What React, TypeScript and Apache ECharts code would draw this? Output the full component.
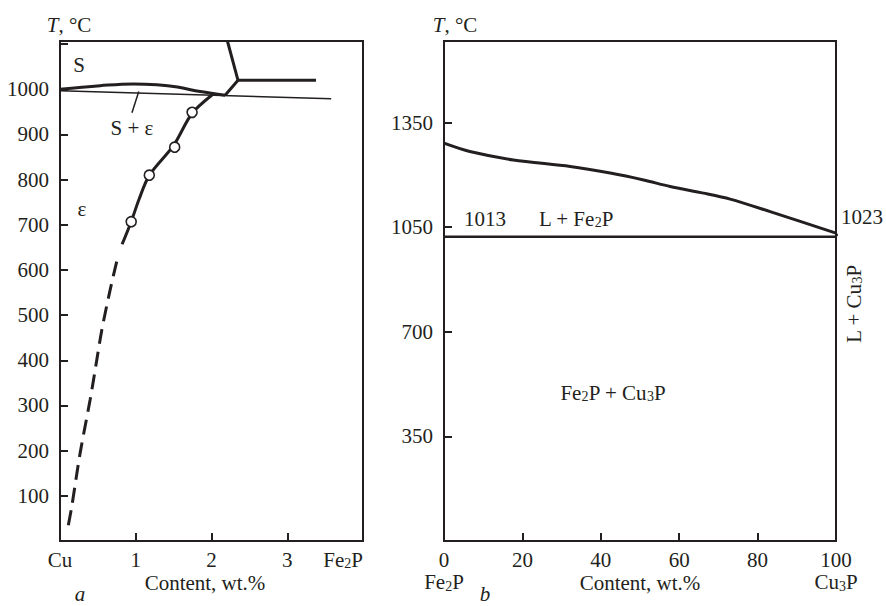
import React, { useEffect, useRef } from 'react';
import * as echarts from 'echarts';

const FONT = '"Liberation Serif", "Times New Roman", serif';
const INK = '#231f20';
const FS = 21;

// ---- Panel a: Cu – Fe2P ----
const leftXLabels = ['Cu', '1', '2', '3', 'Fe2P'];
const leftXRange = [0, 4];
const leftYRange = [0, 1107];
const leftYLabelValues = [100, 200, 300, 400, 500, 600, 700, 800, 900, 1000];
const sCurve = [[0, 1000], [0.53, 1008], [0.97, 1012], [1.28, 1010], [1.55, 1005], [1.85, 995], [2.18, 987]];
const solidusLine = [[0, 997], [3.58, 979]];
const leaderLine = [[1.04, 995], [0.95, 948]];
const epsSolid = [[0.82, 657], [0.94, 707], [1.04, 755], [1.18, 810], [1.5, 876], [1.74, 946], [2.01, 988]];
const epsDashed = [[0.11, 35], [0.155, 76], [0.265, 194], [0.397, 312], [0.45, 364], [0.552, 467], [0.662, 556], [0.759, 626]];
const epsPoints = [[0.94, 707], [1.179, 810], [1.514, 872], [1.744, 949]];
const junctionA = [[2.18, 987], [2.35, 1020], [2.21, 1107]];
const junctionB = [[2.35, 1020], [3.38, 1020]];

// ---- Panel b: Fe2P – Cu3P ----
const rightXRange = [0, 100];
const rightXTicks = [0, 20, 40, 60, 80, 100];
const rightYRange = [0, 1673];
const rightYTickLabels: Record<number, string> = { 350: '350', 700: '700', 1050: '1050', 1400: '1350' };
const liquidus = [[0, 1331], [6.6, 1303], [17.7, 1275], [32.2, 1253], [42.4, 1231], [50.9, 1208], [57.7, 1186], [66.2, 1164], [73, 1144], [83.2, 1102], [100, 1030]];
const eutectic = [[0, 1018], [100, 1018]];
const cu3pTail = [[100, 1030], [103.6, 980]];

const rich = {
  n: { fontSize: FS, fontFamily: FONT, lineHeight: 21, color: INK, fill: INK },
  s: { fontSize: 14, fontFamily: FONT, lineHeight: 10, verticalAlign: 'bottom', color: INK, fill: INK },
  i: { fontSize: FS, fontFamily: FONT, lineHeight: 21, fontStyle: 'italic', color: INK, fill: INK },
};

const chem = (s: string) =>
  s.replace(/([A-Za-z])(\d)/g, '$1}{s|$2}{n|').replace(/^/, '{n|') + '}';

const txt = (text: string, x: number, y: number, extra: any = {}) => ({
  type: 'text',
  x,
  y,
  ...extra,
  style: {
    text,
    fontSize: FS,
    fontFamily: FONT,
    fill: INK,
    align: 'center',
    verticalAlign: 'middle',
    rich,
    ...(extra.style || {}),
  },
});

const thick = { color: INK, width: 3 };
const thin = { color: INK, width: 1.5 };

export default function App() {
  const ref = useRef<HTMLDivElement>(null);
  useEffect(() => {
    if (!ref.current) return;
    const chart = echarts.init(ref.current, null, { renderer: 'svg' });
    const axisCommon = {
      axisLine: { show: true, lineStyle: { color: INK, width: 2 } },
      axisTick: { show: true, inside: true, length: 8, lineStyle: { color: INK, width: 2 } },
      splitLine: { show: false },
      nameMoveOverlap: false,
    };
    const lineSeries = (data: number[][], style: any, idx: number, extra: any = {}) => ({
      type: 'line',
      data,
      xAxisIndex: idx,
      yAxisIndex: idx,
      showSymbol: false,
      symbol: 'none',
      lineStyle: style,
      silent: true,
      ...extra,
    });
    chart.setOption({
      animation: false,
      backgroundColor: '#ffffff',
      grid: [
        { left: 60, top: 41, width: 303, height: 500, show: true, borderColor: INK, borderWidth: 2, containLabel: false, outerBoundsMode: 'none' },
        { left: 444, top: 41, width: 392, height: 500, show: true, borderColor: INK, borderWidth: 2, containLabel: false, outerBoundsMode: 'none' },
      ],
      xAxis: [
        {
          ...axisCommon,
          gridIndex: 0,
          type: 'value',
          min: leftXRange[0],
          max: leftXRange[1],
          interval: 1,
          axisLabel: {
            margin: 8,
            color: INK,
            fontSize: FS,
            fontFamily: FONT,
            alignMaxLabel: 'right',
            formatter: (v: number) => chem(leftXLabels[Math.round(v)] ?? ''),
            rich,
          },
          name: 'Content, wt.%',
          nameLocation: 'middle',
          nameGap: 31,
          nameTextStyle: { color: INK, fontSize: FS, fontFamily: FONT, padding: [0, 13, 0, 0] },
        },
        {
          ...axisCommon,
          gridIndex: 1,
          type: 'value',
          min: rightXRange[0],
          max: rightXRange[1],
          interval: 20,
          axisLabel: {
            margin: 8,
            color: INK,
            fontSize: FS,
            fontFamily: FONT,
            lineHeight: 22,
            formatter: (v: number) => {
              if (v === rightXTicks[0]) return '{n|0}\n' + chem('Fe2P');
              if (v === rightXTicks[rightXTicks.length - 1]) return '{n|100}\n' + chem('Cu3P');
              return '{n|' + v + '}';
            },
            rich: {
              n: { ...rich.n, lineHeight: 22 },
              s: { ...rich.s },
            },
          },
          name: 'Content, wt.%',
          nameLocation: 'middle',
          nameGap: 31,
          nameTextStyle: { color: INK, fontSize: FS, fontFamily: FONT },
        },
      ],
      yAxis: [
        {
          ...axisCommon,
          gridIndex: 0,
          type: 'value',
          min: leftYRange[0],
          max: leftYRange[1],
          interval: 100,
          axisLabel: {
            margin: 11,
            color: INK,
            fontSize: FS,
            fontFamily: FONT,
            formatter: (v: number) => (leftYLabelValues.includes(v) ? String(v) : ''),
          },
        },
        {
          ...axisCommon,
          gridIndex: 1,
          type: 'value',
          min: rightYRange[0],
          max: rightYRange[1],
          interval: 350,
          axisLabel: {
            margin: 11,
            color: INK,
            fontSize: FS,
            fontFamily: FONT,
            formatter: (v: number) => rightYTickLabels[v] ?? '',
          },
        },
      ],
      series: [
        lineSeries(sCurve, thick, 0, { smooth: 0.4 }),
        lineSeries(solidusLine, thin, 0),
        lineSeries(leaderLine, thin, 0),
        lineSeries(epsSolid, thick, 0, { smooth: 0.3 }),
        lineSeries(epsDashed, { ...thick, type: [15, 8] }, 0, { smooth: 0.3 }),
        lineSeries(junctionA, thick, 0),
        lineSeries(junctionB, thick, 0),
        {
          type: 'scatter',
          data: epsPoints,
          xAxisIndex: 0,
          yAxisIndex: 0,
          symbol: 'circle',
          symbolSize: 10,
          z: 5,
          silent: true,
          itemStyle: { color: '#ffffff', opacity: 1, borderColor: INK, borderWidth: 1.6 },
        },
        lineSeries(liquidus, thick, 1, { smooth: 0.3 }),
        lineSeries(eutectic, { color: INK, width: 2.5 }, 1),
        lineSeries(cu3pTail, thin, 1, { clip: false }),
      ],
      graphic: [
        txt('{i|T}{n|, °C}', 69, 25),
        txt('{i|T}{n|, °C}', 455, 25),
        txt('{n|S}', 79, 65),
        txt('{n|S + ε}', 132, 128),
        txt('{n|ε}', 82, 209),
        txt('{i|a}', 80, 594),
        txt('{i|b}', 485, 594),
        txt('{n|1013}', 485, 219),
        txt(chem('L + Fe2P'), 576, 219),
        txt('{n|1023}', 862, 217),
        txt(chem('Fe2P + Cu3P'), 613, 393),
        txt(chem('L + Cu3P'), 854, 304, { rotation: Math.PI / 2 }),
      ],
    });
    return () => chart.dispose();
  }, []);
  return (
    <div
      ref={ref}
      style={{ position: 'fixed', left: 0, top: 0, width: 886, height: 606, background: '#fff' }}
    />
  );
}
